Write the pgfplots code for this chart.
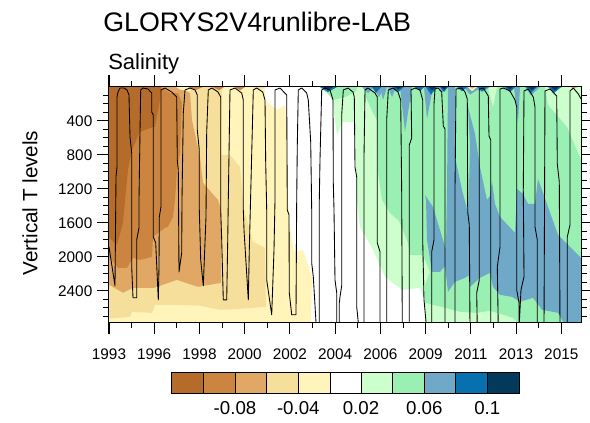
\documentclass[border=0pt]{standalone}
\usepackage{fontspec}
\setmainfont{Liberation Sans}
\usepackage{pgfplots}
\pgfplotsset{compat=1.18}

\definecolor{c1}{HTML}{B56C2A}
\definecolor{c2}{HTML}{CC8540}
\definecolor{c3}{HTML}{E0A765}
\definecolor{c4}{HTML}{F5DF9B}
\definecolor{c5}{HTML}{FFF4BA}
\definecolor{c6}{HTML}{FFFFFF}
\definecolor{c7}{HTML}{CDFFCC}
\definecolor{c8}{HTML}{9AEFB3}
\definecolor{c9}{HTML}{70A8C8}
\definecolor{c10}{HTML}{0870AE}
\definecolor{c11}{HTML}{033A5C}

% small features hanging from the surface: colour, left, tip x, tip depth, right
\newcommand{\spike}[5]{\addplot[fill=#1,draw=none] coordinates {(#2,0) (#3,#4) (#5,0)} --cycle;}

\begin{document}
\begin{tikzpicture}

\begin{axis}[
    at={(81.75pt,-65.25pt)}, anchor=north west,
    scale only axis, width=354pt, height=176.5pt,
    xmin=109, xmax=581, ymin=0, ymax=2770, y dir=reverse,
    axis on top, no markers,
    major tick length=9pt, minor tick length=4.5pt,
    tick align=outside,
    tick style={black,line width=0.75pt},
    axis line style={line width=0.75pt},
    tick label style={font=\fontsize{11.5}{13}\selectfont},
    /pgf/number format/assume math mode=true,
    /pgf/number format/1000 sep={},
    xticklabel pos=lower,
    xtick={109,154.2,199.5,244.7,289.9,335.1,380.4,425.6,470.8,516,561.3},
    xticklabels={1993,1996,1998,2000,2002,2004,2006,2009,2011,2013,2015},
    xticklabel style={yshift=-7.5pt},
    yticklabel pos=left, ytick pos=both,
    ytick={400,800,1200,1600,2000,2400},
    minor ytick={100,200,300,500,600,700,900,1000,1100,1300,1400,1500,1700,1800,1900,2100,2200,2300,2500,2600,2700},
]
% negative anomalies, back to front
\addplot[fill=c5,draw=none] coordinates {(109,0) (265,0) (265,153) (277,270) (285,212) (287,588) (288,1329) (290,1646) (294,1940) (303,1917) (312,2234) (311,2800) (109,2800)} --cycle;
\addplot[fill=c4,draw=none] coordinates {(109,0) (222,0) (221,800) (230,800) (240,941) (244,1446) (253,1823) (265,1893) (266,2587) (240,2611) (220,2622) (200,2575) (177,2564) (155,2564) (152,2658) (132,2646) (130,2705) (109,2728)} --cycle;
\addplot[fill=c3,draw=none] coordinates {(109,0) (178,0) (190,71) (192,388) (200,823) (203,1129) (218,1329) (221,1446) (221,2305) (198,2352) (177,2270) (154,2364) (133,2364) (123,2422) (109,2328)} --cycle;
\addplot[fill=c5,draw=none] coordinates {(176,0) (190,0) (190,50) (180,30)} --cycle;
\addplot[fill=c2,draw=none] coordinates {(109,0) (161,0) (170,71) (178,71) (182,188) (180,776) (177,976) (175,1329) (173,1529) (168,1646) (165,1658) (153,1764) (152,2000) (140,2035) (133,2011) (127,2129) (118,2129) (109,2000)} --cycle;
\addplot[fill=c1,draw=none] coordinates {(109,0) (161,0) (160,153) (155,470) (153,470) (140,529) (132,741) (128,976) (125,1329) (123,1600) (117,1858) (109,1776)} --cycle;
% brown bits right at the surface
\spike{c2}{188}{196}{35}{203}
\spike{c2}{213}{219}{40}{224}
\spike{c2}{235}{240}{40}{245}
\spike{c4}{253}{259}{35}{266}
% positive anomalies
\addplot[fill=c7,draw=none] coordinates {(320,0) (325,47) (331,71) (333,200) (337,576) (342,412) (355,412) (357,1329) (360,1646) (373,1917) (385,2234) (402,2387) (420,2364) (425,2540) (425,2800) (581,2800) (581,0)} --cycle;
\addplot[fill=c8,draw=none] coordinates {(320,0) (327,71) (333,153) (345,118) (355,59) (358,0)} --cycle;
\addplot[fill=c8,draw=none] coordinates {(365,0) (365,94) (373,306) (377,388) (378,1000) (382,1329) (390,1482) (399,1576) (408,1835) (410,1976) (423,1976) (430,2176) (425,2328) (425,2540) (445,2599) (460,2646) (477,2658) (490,2634) (513,2716) (520,2800) (581,2800) (581,858) (567,470) (548,212) (545,0)} --cycle;
\spike{c7}{488}{493}{235}{497}
\addplot[fill=c9,draw=none] coordinates {(448,0) (447,1211) (446,1917) (433,1411) (425,1270) (426,1329) (427,1800) (432,2176) (440,2176) (445,2105) (448,2411) (455,2293) (465,2246) (470,2211) (470,2352) (480,2246) (490,2188) (493,2352) (500,2446) (512,2470) (520,2528) (533,2481) (542,2622) (558,2658) (565,2800) (581,2800) (581,2011) (558,1740) (548,1411) (538,1082) (535,1376) (528,1376) (523,1258) (517,1200) (515,1717) (500,1529) (495,1376) (492,1106) (490,1282) (487,1329) (480,941) (475,553) (468,235) (470,670) (469,1211) (468,1482) (462,1211) (455,823) (455,0)} --cycle;
\spike{c9}{362}{368}{71}{374}
\spike{c9}{373}{379}{118}{384}
\spike{c9}{380}{383}{153}{387}
\spike{c9}{388}{392}{118}{396}
\spike{c9}{400}{405}{529}{412}
\spike{c9}{424}{427}{376}{433}
\spike{c9}{437}{442}{60}{447}
\spike{c9}{464}{470}{90}{482}
\spike{c9}{475}{482}{60}{490}
\spike{c9}{503}{510}{50}{516}
\spike{c9}{514}{518}{423}{520}
\spike{c9}{525}{531}{100}{540}
\spike{c9}{548}{553}{60}{562}
\spike{c10}{320}{328}{60}{337}
\spike{c10}{372}{376}{70}{381}
\spike{c10}{393}{398}{60}{404}
\spike{c10}{415}{420}{50}{424}
\spike{c10}{426}{431}{90}{437}
\spike{c10}{440}{444}{60}{448}
\spike{c10}{457}{462}{50}{467}
\spike{c10}{477}{482}{50}{488}
\spike{c10}{505}{510}{60}{515}
\spike{c10}{526}{531}{70}{537}
\spike{c10}{549}{554}{70}{561}
\spike{c11}{323}{328}{35}{333}
\spike{c11}{395}{398}{25}{402}
\spike{c11}{429}{432}{40}{436}
\spike{c11}{441}{444}{30}{447}
\spike{c11}{507}{510}{30}{513}
\spike{c11}{528}{532}{35}{536}
\spike{c11}{551}{555}{40}{559}
\spike{c5}{468}{472}{50}{477}
\spike{c3}{470}{472}{20}{475}
\spike{c3}{571}{574}{20}{577}
% mixed layer depth
\addplot[black,line width=0.65pt,line join=round] coordinates {
(109,1882) (115,2340) (116,1058) (117,941) (117,118) (118,59) (120,12) (124,12) (127,35) (129,94)
(130,588) (131.7,776) (131.7,2117) (133,2481) (136.7,2481) (136.7,1800) (139,1658) (139,1329) (140,529) (140.7,35)
(143,12) (148,24) (151.7,71) (151.7,294) (153.3,329) (153.3,1764) (155.7,1835) (158.3,2505) (159,2117) (159.3,1529) (161,1411) (161,35)
(165,12) (171.7,59) (176.7,118) (177.3,858) (178.3,976) (179,2176) (181.7,1952) (182,1329) (183.3,306) (185,35)
(190,12) (195,35) (197.3,94) (197.3,506) (199.3,741) (199.3,1446) (200.7,2035) (203.3,2340) (206,1529) (206.7,529) (208.3,35)
(212,12) (218,59) (220.7,118) (220.7,1446) (221.7,1800) (223.3,2505) (226.7,2505) (227.7,1823) (228.3,1329) (230,35)
(235,12) (241.7,71) (243.3,153) (243.3,1446) (244,1682) (248.3,2505) (249.3,1917) (252.3,506) (253.3,35)
(256.7,12) (262.7,59) (265,153) (265.7,894) (266.7,1446) (266.7,2270) (271.7,2681) (274,1917) (275,1329) (275,35)
(280,12) (286.7,94) (287.3,1446) (289,1505) (289.3,2423) (291.7,2681) (296,2681) (296.7,1329) (297.3,682) (298.3,35)
(301.7,12) (306.7,71) (308.3,153) (310.7,647) (311.7,1446) (311.7,2070) (313.3,2234) (316,2770) (317,2850) (319.3,2850) (319.3,1329) (320,858) (321.7,35)
(325,12) (330,35) (333,153) (333.3,1129) (334,1446) (335,2270) (336.7,2423) (336.7,2850) (339.3,2850) (339.3,2540) (340,2470) (341.7,2340) (341.7,329) (343.3,35)
(348,12) (353,59) (354.3,118) (355,941) (356.7,1058) (356.7,2587) (359,2850) (364,2850) (364,823) (365,35)
(368,12) (375,71) (377.3,118) (377.3,1835) (380,1940) (380,2850) (386.7,2850) (386.7,388) (388.3,35)
(393,12) (398,59) (400.7,153) (401.7,1247) (402.3,2850) (409.3,2850) (409.3,682) (411.7,600) (411,35)
(415,12) (420,35) (422.7,153) (422.7,1800) (424,2505) (426.7,2850) (431.7,2850) (431.7,1940) (434,1800) (434,200) (435,24)
(438,12) (441.7,59) (443.3,459) (445,494) (445,2850) (455,2850) (455,1211) (456,24)
(461.7,12) (465,59) (467.3,141) (467.7,1470) (469.3,1623) (470,2850) (477.3,2850) (476.7,2423) (479.3,2270) (479.3,24)
(483.3,12) (488.3,106) (489,576) (490.7,623) (490.7,2850) (498.3,2850) (497.3,2117) (500,1882) (500,24)
(503.3,12) (510,47) (515,153) (516.7,235) (516.7,2387) (519,2540) (519,2850) (521,2387) (524,2234) (523.3,1211) (524,47)
(528.3,24) (533.3,118) (535,235) (535,1646) (537.3,1800) (537.3,2850) (544,2850) (545,47)
(550,24) (556.7,106) (557.3,906) (559.3,1117) (560,2850) (567.3,2850) (567.3,1764) (570,1623) (570,47)
(573.3,12) (578.3,82) (580,118) (581,141)
};
\end{axis}

\begin{scope}[x=0.75pt,y=-0.75pt]
% time ticks, above and below the panel
\foreach \tx in {109,154.2,199.5,244.7,289.9,335.1,380.4,425.6,470.8,516,561.3} {
  \draw[black,line width=0.75pt] (\tx,87) -- (\tx,75);
  \draw[black,line width=0.75pt] (\tx,322.3) -- (\tx,334.3);
}
\foreach \tx in {131.6,176.9,222.1,267.3,312.5,357.8,403,448.2,493.4,538.7} {
  \draw[black,line width=0.75pt] (\tx,87) -- (\tx,81);
  \draw[black,line width=0.75pt] (\tx,322.3) -- (\tx,328.3);
}

\node[anchor=base west,inner sep=0,font=\fontsize{20.1}{24}\selectfont] at (103,32) {GLORYS2V4runlibre-LAB};
\node[anchor=base west,inner sep=0,font=\fontsize{16.5}{20}\selectfont] at (108,69.3) {Salinity};
\node[rotate=90,inner sep=0,font=\fontsize{15.5}{18}\selectfont] at (30,203) {Vertical T levels};

% colour bar
\foreach \xa/\xb/\c in {171.7/203.3/c1,203.3/235/c2,235/266.7/c3,266.7/298.3/c4,298.3/330/c5,330/361.7/c6,361.7/392.7/c7,392.7/424.3/c8,424.3/455.7/c9,455.7/487.3/c10,487.3/519/c11}
  \filldraw[fill=\c,draw=black,line width=0.6pt] (\xa,372.3) rectangle (\xb,393.3);
\foreach \tx/\t in {235/-0.08,298.3/-0.04,361/0.02,424.3/0.06,487.3/0.1}
  \node[anchor=base,inner sep=0,font=\fontsize{14}{16}\selectfont] at (\tx,415) {\t};

\pgfresetboundingbox
\useasboundingbox (0,0) rectangle (590,423);
\end{scope}
\end{tikzpicture}
\end{document}
